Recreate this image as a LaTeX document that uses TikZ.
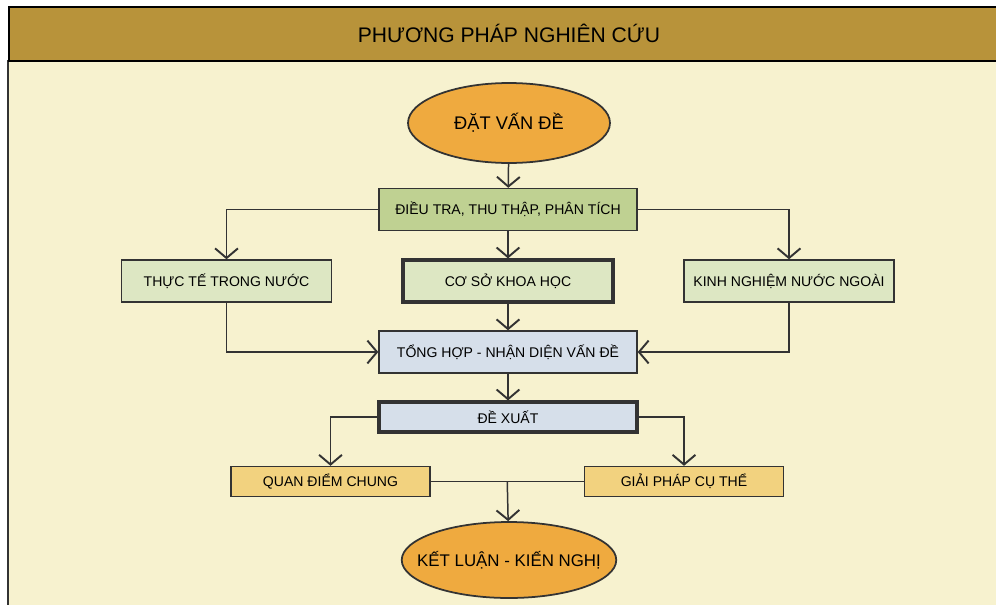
\documentclass[tikz,border=0pt]{standalone}
\usepackage{fontspec}
\setmainfont{Liberation Sans}
\usepackage{tikz}
\usetikzlibrary{shapes.geometric, positioning, calc, arrows.meta}
\definecolor{vang}{HTML}{B8933A}
\definecolor{kem}{HTML}{F7F2CF}
\definecolor{cam}{HTML}{EFAA3F}
\definecolor{xanhdam}{HTML}{BFD192}
\definecolor{xanhnhat}{HTML}{DDE7C3}
\definecolor{lam}{HTML}{D6DFEA}
\definecolor{vangnhat}{HTML}{F2D27F}
\definecolor{vien}{HTML}{333333}
\tikzset{
  box/.style={
    rectangle, draw=vien, line width=0.8pt,
    minimum width=4.2cm,
    minimum height=0.84cm,
    font=\fontsize{8}{9}\selectfont,
    align=center,
    inner sep=0pt
  },
  % Stili per i diversi livelli
  buoc/.style={ellipse, draw=vien, line width=1pt, fill=cam,
    minimum width=4.04cm, minimum height=1.6cm, inner sep=0pt},
  khaosat/.style={box, fill=xanhdam, minimum width=5.16cm},
  nguon/.style={box, fill=xanhnhat},
  tonghopbox/.style={box, fill=lam, minimum width=5.16cm},
  daybox/.style={line width=1.8pt},
  dexuatbox/.style={box, fill=vangnhat, minimum width=3.98cm, minimum height=0.6cm},
  flow/.style={-{Straight Barb[length=5.5pt,width=13pt,line width=1.1pt]}, line width=0.85pt, draw=vien},
  lien/.style={line width=0.85pt, draw=vien}
}

\begin{document}
\begin{tikzpicture}[x=0.02cm, y=-0.02cm]

% Sfondo e titolo
\useasboundingbox (0,0) rectangle (996,605);
\fill[kem] (8,60) rectangle (996,605);
\draw[line width=1pt, draw=vien] (8,60) -- (8,605);
\node[rectangle, fill=vang, draw=black, line width=1.2pt, minimum width=20cm, minimum height=1.08cm,
  anchor=north west, inner sep=0pt] (tieude) at (8,6) {};
\node[font=\fontsize{12}{14}\selectfont] (tieudetext) at (509,33) {PHƯƠNG PHÁP NGHIÊN CỨU};

% Livello superiore
\node[buoc, font=\fontsize{10.4}{12}\selectfont] (datvande) at (509,123) {ĐẶT VẤN ĐỀ};
\node[khaosat] (dieutra) at (508,209.5) {ĐIỀU TRA, THU THẬP, PHÂN TÍCH};

% Livello secondo - tre fonti
\node[nguon] (thucte) at (226.5,281) {THỰC TẾ TRONG NƯỚC};
\node[nguon, daybox] (coso) at (508,281) {CƠ SỞ KHOA HỌC};
\node[nguon] (kinhnghiem) at (789,281) {KINH NGHIỆM NƯỚC NGOÀI};

% Livello terzo
\node[tonghopbox] (tonghop) at (508,352) {TỔNG HỢP - NHẬN DIỆN VẤN ĐỀ};
\node[tonghopbox, daybox, minimum height=0.6cm] (dexuat) at (508,417) {ĐỀ XUẤT};

% Livello inferiore
\node[dexuatbox] (quandiem) at (330.5,481.5) {QUAN ĐIỂM CHUNG};
\node[dexuatbox] (giaiphap) at (684,481.5) {GIẢI PHÁP CỤ THỂ};
\node[buoc, font=\fontsize{9.6}{11}\selectfont, minimum height=1.52cm, inner xsep=-0.32cm] (ketluan) at (509,560) {KẾT LUẬN - KIẾN NGHỊ};

% Collegamenti
\draw[flow] (datvande) -- (dieutra);
\draw[flow] (dieutra.west) -| (thucte.north);
\draw[flow] (dieutra) -- (coso);
\draw[flow] (dieutra.east) -| (kinhnghiem.north);
\draw[flow] (thucte.south) |- (tonghop.west);
\draw[flow] (coso) -- (tonghop);
\draw[flow] (kinhnghiem.south) |- (tonghop.east);
\draw[flow] (tonghop) -- (dexuat);
\draw[flow] (dexuat.west) -| (quandiem.north);
\draw[flow] (dexuat.east) -| (giaiphap.north);
\coordinate (nhap) at ($(quandiem.east)!0.5!(giaiphap.west)$);
\draw[lien] (quandiem) -- (giaiphap);
\draw[flow] (nhap) -- (ketluan);

\end{tikzpicture}
\end{document}
